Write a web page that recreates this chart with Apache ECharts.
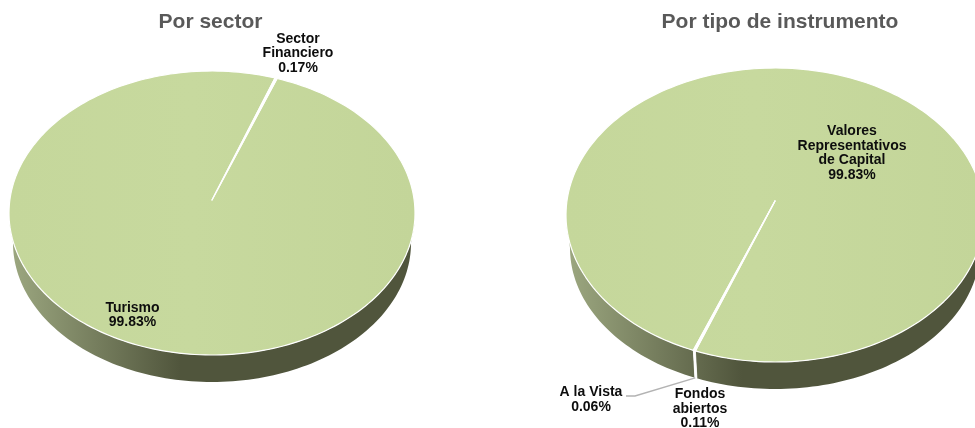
<!DOCTYPE html>
<html>
<head>
<meta charset="utf-8">
<title>Por sector / Por tipo de instrumento</title>
<script src="https://cdn.jsdelivr.net/npm/echarts@6/dist/echarts.min.js"></script>
<style>
  html, body { margin: 0; padding: 0; background: #fff; }
  #chart { width: 975px; height: 428px; }
</style>
</head>
<body>
<div id="chart"></div>
<script>
// data
const titles = ['Por sector', 'Por tipo de instrumento'];
const sectorNames = ['Turismo', 'Sector\nFinanciero'];
const sectorValues = [99.83, 0.17];
const instrumentNames = ['Valores\nRepresentativos\nde Capital', 'Fondos\nabiertos', 'A la Vista'];
const instrumentValues = [99.83, 0.11, 0.06];

// pie layout, angles are degrees clockwise from the top
const leftPie = {
  apex: [212, 200], top: [212, 213, 203, 142], bottom: [212, 243, 199, 139],
  start: 18.7, gradX: [13, 412],
  labels: [[132.5, 315], [298, 53.5]], titleX: 210.5
};
const rightPie = {
  apex: [775, 201], top: [775, 215, 209, 147], bottom: [775, 248, 205, 141],
  start: 203, gradX: [570, 980],
  labels: [[852, 153], [700, 409], [591, 399.5]], titleX: 780,
  leader: { index: 2, elbow: [635, 396], end: [626, 396] }
};

function pt(e, deg) {
  const a = deg * Math.PI / 180;
  return [e[0] + e[2] * Math.sin(a), e[1] - e[3] * Math.cos(a)];
}

function arc(e, from, to) {
  const pts = [];
  const n = Math.max(2, Math.ceil(Math.abs(to - from) / 1.5));
  for (let i = 0; i <= n; i++) pts.push(pt(e, from + (to - from) * i / n));
  return pts;
}

// start and end angle of slice i
function sliceAngles(values, i, start) {
  const total = values.reduce((s, v) => s + v, 0);
  const before = values.slice(0, i).reduce((s, v) => s + v, 0);
  return [start + before / total * 360, start + (before + values[i]) / total * 360];
}

// the tiny slices only show up as a white cut in the original
function isTiny(values, i) {
  return values[i] < 1;
}

function sideSeries(values, pie) {
  return {
    type: 'custom',
    coordinateSystem: 'none',
    z: 1,
    silent: true,
    data: values,
    renderItem(params) {
      const i = params.dataIndex;
      const [a0, a1] = sliceAngles(values, i, pie.start);
      const tiny = isTiny(values, i);
      const children = [];
      // only the front half of the rim shows, so check both turns of the circle
      [0, 360].forEach((turn) => {
        const from = Math.max(a0 - turn, 90);
        const to = Math.min(a1 - turn, 270);
        if (to <= from) return;
        const points = arc(pie.top, from, to).concat(arc(pie.bottom, to, from));
        children.push({
          type: 'polygon',
          shape: { points },
          style: {
            fill: tiny ? '#ffffff' : new echarts.graphic.LinearGradient(pie.gradX[0], 0, pie.gradX[1], 0, [
              { offset: 0, color: '#9ba67f' },
              { offset: 0.42, color: '#50553c' },
              { offset: 1, color: '#50553c' }
            ], true),
            stroke: tiny ? '#ffffff' : null,
            lineWidth: tiny ? 0.8 : 0
          }
        });
      });
      return { type: 'group', children };
    }
  };
}

function topSeries(values, pie) {
  const left = pie.top[0] - pie.top[2];
  const right = pie.top[0] + pie.top[2];
  return {
    type: 'custom',
    coordinateSystem: 'none',
    z: 2,
    silent: true,
    data: values,
    renderItem(params) {
      const i = params.dataIndex;
      const [a0, a1] = sliceAngles(values, i, pie.start);
      return {
        type: 'polygon',
        shape: { points: [pie.apex].concat(arc(pie.top, a0, a1)) },
        style: {
          fill: isTiny(values, i) ? '#ffffff' : new echarts.graphic.LinearGradient(left, 0, right, 0, [
            { offset: 0, color: '#c5d79b' },
            { offset: 0.45, color: '#c7d99e' },
            { offset: 1, color: '#c3d599' }
          ], true),
          stroke: '#fff',
          lineWidth: 1.2,
          lineJoin: 'round'
        }
      };
    }
  };
}

function labelSeries(names, values, pie) {
  return {
    type: 'custom',
    coordinateSystem: 'none',
    z: 3,
    silent: true,
    data: values,
    renderItem(params) {
      const i = params.dataIndex;
      const children = [{
        type: 'text',
        style: {
          text: names[i] + '\n' + values[i].toFixed(2) + '%',
          x: pie.labels[i][0],
          y: pie.labels[i][1],
          align: 'center',
          verticalAlign: 'middle',
          font: 'bold 14px "Liberation Sans", Arial, sans-serif',
          lineHeight: 14.6,
          fill: '#0d0d0d'
        }
      }];
      if (pie.leader && pie.leader.index === i) {
        const [a0, a1] = sliceAngles(values, i, pie.start);
        children.push({
          type: 'polyline',
          shape: { points: [pt(pie.bottom, (a0 + a1) / 2), pie.leader.elbow, pie.leader.end] },
          style: { stroke: '#b3b3b3', lineWidth: 1.4, fill: null }
        });
      }
      return { type: 'group', children };
    }
  };
}

const chart = echarts.init(document.getElementById('chart'), null, { renderer: 'canvas' });

function titleOpt(text, x) {
  return {
    text,
    left: x,
    top: 12,
    padding: 0,
    textAlign: 'center',
    textStyle: { fontFamily: '"Liberation Sans", Arial, sans-serif', fontSize: 21, fontWeight: 'bold', color: '#595959' }
  };
}

chart.setOption({
  backgroundColor: '#ffffff',
  animation: false,
  title: [titleOpt(titles[0], leftPie.titleX), titleOpt(titles[1], rightPie.titleX)],
  series: [
    sideSeries(sectorValues, leftPie),
    topSeries(sectorValues, leftPie),
    labelSeries(sectorNames, sectorValues, leftPie),
    sideSeries(instrumentValues, rightPie),
    topSeries(instrumentValues, rightPie),
    labelSeries(instrumentNames, instrumentValues, rightPie)
  ]
});
</script>
</body>
</html>
